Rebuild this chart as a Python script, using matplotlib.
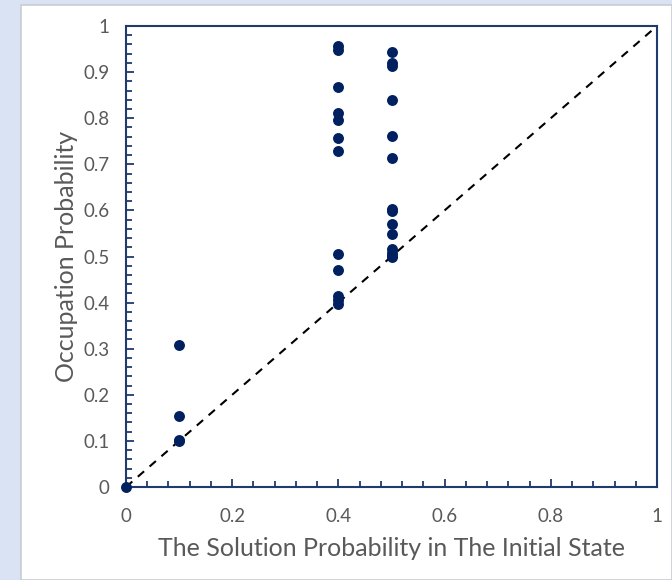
import matplotlib
matplotlib.use("Agg")
import matplotlib.pyplot as plt
from matplotlib.patches import Rectangle
from matplotlib.ticker import MultipleLocator

plt.rcParams['font.family'] = ['Lato', 'DejaVu Sans']

# Data
x_vals = [0.0,
          0.1, 0.1, 0.1, 0.1,
          0.4, 0.4, 0.4, 0.4, 0.4, 0.4, 0.4, 0.4, 0.4, 0.4, 0.4, 0.4,
          0.5, 0.5, 0.5, 0.5, 0.5, 0.5, 0.5, 0.5, 0.5, 0.5, 0.5, 0.5, 0.5, 0.5]
y_vals = [0.0,
          0.308, 0.154, 0.100, 0.102,
          0.957, 0.948, 0.868, 0.812, 0.797, 0.758, 0.729, 0.505, 0.471, 0.414, 0.406, 0.397,
          0.943, 0.919, 0.913, 0.839, 0.762, 0.714, 0.602, 0.598, 0.570, 0.549, 0.516, 0.508, 0.498, 0.502]
ref_x = [0, 1]
ref_y = [0, 1]

x_label = "The Solution Probability in The Initial State"
y_label = "Occupation Probability"
x_ticks = [0, 0.2, 0.4, 0.6, 0.8, 1]
x_ticklabels = ["0", "0.2", "0.4", "0.6", "0.8", "1"]
y_ticks = [0, 0.1, 0.2, 0.3, 0.4, 0.5, 0.6, 0.7, 0.8, 0.9, 1]
y_ticklabels = ["0", "0.1", "0.2", "0.3", "0.4", "0.5", "0.6", "0.7", "0.8", "0.9", "1"]

W, H = 672, 580
fig = plt.figure(figsize=(W / 100, H / 100), dpi=100)
fig.patch.set_facecolor('#DAE3F3')
# white panel with subtle border
fig.add_artist(Rectangle((21 / W, 0), 1 - 21 / W, 1 - 5 / H, transform=fig.transFigure,
                         facecolor='white', edgecolor='#C8CCD4', linewidth=1.2, zorder=0))

ax = fig.add_axes([126 / W, (H - 487) / H, (657 - 126) / W, (487 - 26) / H])
ax.set_facecolor('white')
ax.set_xlim(0, 1)
ax.set_ylim(0, 1)

spine_color = '#1F3A6E'
for s in ax.spines.values():
    s.set_color(spine_color)
    s.set_linewidth(1.5)

ax.plot(ref_x, ref_y, linestyle=(0, (4, 3.5)), color='black', linewidth=1.5, zorder=2, clip_on=False)
ax.scatter(x_vals, y_vals, s=62, color='#002060', zorder=3, clip_on=False, linewidths=0)

ax.set_xticks(x_ticks)
ax.set_xticklabels(x_ticklabels)
ax.set_yticks(y_ticks)
ax.set_yticklabels(y_ticklabels)
ax.xaxis.set_minor_locator(MultipleLocator(0.04))
ax.yaxis.set_minor_locator(MultipleLocator(0.02))

ax.tick_params(axis='both', which='major', direction='in', length=6, width=1.3,
               color=spine_color, labelcolor='#595959', labelsize=13.5)
ax.tick_params(axis='both', which='minor', direction='in', length=4, width=1.3, color=spine_color)
ax.tick_params(axis='x', which='major', pad=15)
ax.tick_params(axis='y', which='major', pad=12)
ax.tick_params(top=False, right=False, which='both')

ax.set_xlabel(x_label, fontsize=18, color='#595959', labelpad=9)
ax.set_ylabel(y_label, fontsize=18, color='#595959', labelpad=4)

fig.savefig("out.png", dpi=100, facecolor=fig.get_facecolor())
